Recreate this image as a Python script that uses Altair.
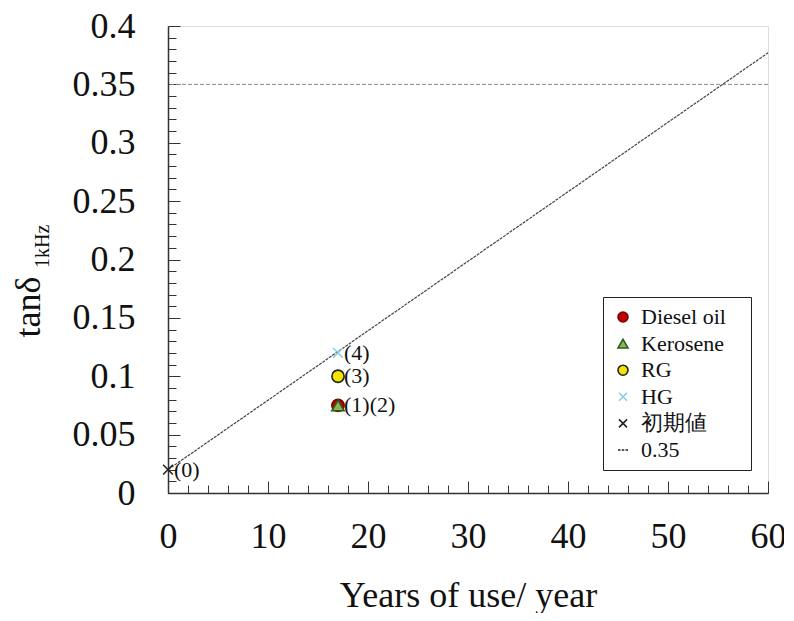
import altair as alt
import pandas as pd

# ---- data ----
series = ["Diesel oil", "Kerosene", "RG", "HG", "初期値"]
years = [17, 17, 17, 17, 0]
tan_delta = [0.075, 0.075, 0.10, 0.12, 0.02]

note_text = ["(1)(2)", "(3)", "(4)", "(0)"]
note_x = [17, 17, 17, 0]
note_y = [0.075, 0.10, 0.12, 0.02]

trend_x = [0, 60]
trend_y = [0.02, 0.377]

threshold = [0.35]

legend_domain = ["Diesel oil", "Kerosene", "RG", "HG", "初期値", "0.35"]
x_major = [0, 10, 20, 30, 40, 50, 60]
x_minor = list(range(0, 61, 2))
y_major = [round(0.05 * i, 2) for i in range(9)]
y_minor = [round(0.01 * i, 2) for i in range(41)]

SERIF = "Liberation Serif"

pts = pd.DataFrame({"series": series, "year": years, "tan": tan_delta})
notes = pd.DataFrame({"text": note_text, "year": note_x, "tan": note_y})
trend = pd.DataFrame({"year": trend_x, "tan": trend_y})
thr = pd.DataFrame({"tan": threshold})
tick_df = pd.DataFrame({"year": [0, 60], "tan": [0.0, 0.4]})

xs = alt.Scale(domain=[0, 60], nice=False, zero=False)
ys = alt.Scale(domain=[0, 0.4], nice=False, zero=False)

xpath = "M-0.8,-0.8L0.8,0.8M-0.8,0.8L0.8,-0.8"
dash_path = "M-1,0H-0.5M-0.25,0H0.25M0.5,0H1"

shape_scale = alt.Scale(domain=legend_domain,
                        range=["circle", "triangle-up", "circle", xpath, xpath, dash_path])
fill_scale = alt.Scale(domain=legend_domain,
                       range=["#c00000", "#8ab55a", "#f2e600", "transparent", "transparent", "transparent"])
stroke_scale = alt.Scale(domain=legend_domain,
                         range=["#7a0000", "#2e5a1c", "#222222", "#86cfe6", "#222222", "#222222"])

legend = alt.Legend(title=None, orient="none", legendX=435, legendY=271,
                    labelFont=SERIF, labelFontSize=22, labelColor="#111",
                    strokeColor="#222", fillColor="white", padding=9,
                    rowPadding=4.6, symbolStrokeWidth=1.6, labelOffset=7,
                    labelExpr="datum.label + '\u2800'")

x_main = alt.Axis(values=x_major, format="d", ticks=False, grid=False, orient="bottom",
                  labelFont=SERIF, labelFontSize=36, labelColor="#111", labelPadding=26,
                  labelFlush=False, domainColor="#333", domainWidth=1.5,
                  title="Years of use/ year", titleFont=SERIF, titleFontSize=36,
                  titleFontWeight="normal", titleColor="#111", titlePadding=24)
y_main = alt.Axis(values=y_major, format="~g", ticks=False, grid=False, orient="left",
                  labelFont=SERIF, labelFontSize=36, labelColor="#111", labelPadding=33,
                  labelFlush=False, domainColor="#333", domainWidth=1.5,
                  title="tanδ", titleFont=SERIF, titleFontSize=36, titleFontWeight="normal",
                  titleColor="#111", titleAngle=270, titleAlign="left",
                  titleBaseline="alphabetic", titleX=-129, titleY=311)

def tick_axis(orient, vals, size):
    return alt.Axis(values=vals, orient=orient, labels=False, domain=False, grid=False,
                    title=None, ticks=True, tickSize=size, offset=-size,
                    tickColor="#333", tickWidth=1)

points = alt.Chart(pts).mark_point(size=150, opacity=1, strokeWidth=1.6).encode(
    x=alt.X("year:Q", scale=xs, axis=x_main),
    y=alt.Y("tan:Q", scale=ys, axis=y_main),
    shape=alt.Shape("series:N", scale=shape_scale, legend=legend),
    fill=alt.Fill("series:N", scale=fill_scale, legend=legend),
    stroke=alt.Stroke("series:N", scale=stroke_scale, legend=legend),
)

trend_line = alt.Chart(trend).mark_line(color="#444", strokeWidth=1.2, strokeDash=[3, 1]).encode(
    x=alt.X("year:Q", scale=xs, axis=None),
    y=alt.Y("tan:Q", scale=ys, axis=None),
)

thr_rule = alt.Chart(thr).mark_rule(color="#8a8a8a", strokeWidth=1, strokeDash=[4, 2]).encode(
    y=alt.Y("tan:Q", scale=ys, axis=None),
)

labels = alt.Chart(notes).mark_text(align="left", baseline="middle", dx=6,
                                    font=SERIF, fontSize=22, color="#111").encode(
    x=alt.X("year:Q", scale=xs, axis=None),
    y=alt.Y("tan:Q", scale=ys, axis=None),
    text="text:N",
)

minor_ticks = alt.Chart(tick_df).mark_point(opacity=0).encode(
    x=alt.X("year:Q", scale=xs, axis=tick_axis("bottom", x_minor, 8)),
    y=alt.Y("tan:Q", scale=ys, axis=tick_axis("left", y_minor, 8)),
)
major_ticks = alt.Chart(tick_df).mark_point(opacity=0).encode(
    x=alt.X("year:Q", scale=xs, axis=tick_axis("bottom", x_major, 12)),
    y=alt.Y("tan:Q", scale=ys, axis=tick_axis("left", y_major, 12)),
)

subscript = alt.Chart(pd.DataFrame({"t": ["1kHz"]})).mark_text(
    align="left", baseline="alphabetic", angle=270, font=SERIF, fontSize=20, color="#111"
).encode(x=alt.value(-119), y=alt.value(242), text="t:N")

chart = alt.layer(
    thr_rule, trend_line, points, labels, minor_ticks, major_ticks, subscript
).resolve_axis(x="independent", y="independent").properties(
    width=600, height=467,
    autosize=alt.AutoSizeParams(type="none"),
    padding={"left": 160, "top": 18, "right": 16, "bottom": 120},
).configure_view(stroke="#444", strokeWidth=1.5).configure_legend(
    labelFont=SERIF
).configure(background="white", font=SERIF)

chart.save("out.html", embed_options={"renderer": "svg", "actions": False})
